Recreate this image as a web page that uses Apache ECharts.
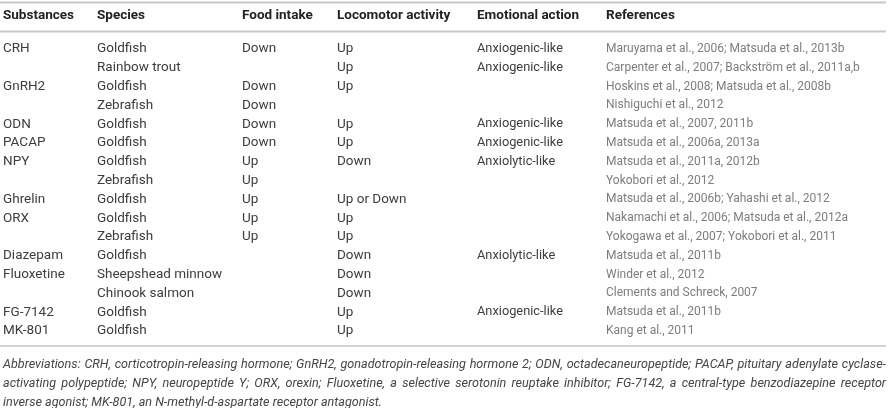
<!DOCTYPE html>
<html lang="en">
<head>
    <meta charset="UTF-8">
    <title>table</title>
    <script src="https://cdn.jsdelivr.net/npm/echarts@6/dist/echarts.min.js"></script>
    <style>
        body { margin: 0; background: #fff; }
    </style>
</head>
<body>
<div id="main" style="width: 888px;height:408px;"></div>
<script>
    let headers = ['Substances', 'Species', 'Food intake', 'Locomotor activity', 'Emotional action', 'References'];
    let substances = ['CRH', '', 'GnRH2', '', 'ODN', 'PACAP', 'NPY', '', 'Ghrelin', 'ORX', '', 'Diazepam', 'Fluoxetine', '', 'FG-7142', 'MK-801'];
    let species = ['Goldfish', 'Rainbow trout', 'Goldfish', 'Zebrafish', 'Goldfish', 'Goldfish', 'Goldfish', 'Zebrafish',
        'Goldfish', 'Goldfish', 'Zebrafish', 'Goldfish', 'Sheepshead minnow', 'Chinook salmon', 'Goldfish', 'Goldfish'];
    let foodIntake = ['Down', '', 'Down', 'Down', 'Down', 'Down', 'Up', 'Up', 'Up', 'Up', 'Up', '', '', '', '', ''];
    let locomotor = ['Up', 'Up', 'Up', '', 'Up', 'Up', 'Down', '', 'Up or Down', 'Up', 'Up', 'Down', 'Down', 'Down', 'Up', 'Up'];
    let emotional = ['Anxiogenic-like', 'Anxiogenic-like', '', '', 'Anxiogenic-like', 'Anxiogenic-like', 'Anxiolytic-like', '',
        '', '', '', 'Anxiolytic-like', '', '', 'Anxiogenic-like', ''];
    let references = [
        'Maruyama et al., 2006; Matsuda et al., 2013b',
        'Carpenter et al., 2007; Backström et al., 2011a,b',
        'Hoskins et al., 2008; Matsuda et al., 2008b',
        'Nishiguchi et al., 2012',
        'Matsuda et al., 2007, 2011b',
        'Matsuda et al., 2006a, 2013a',
        'Matsuda et al., 2011a, 2012b',
        'Yokobori et al., 2012',
        'Matsuda et al., 2006b; Yahashi et al., 2012',
        'Nakamachi et al., 2006; Matsuda et al., 2012a',
        'Yokogawa et al., 2007; Yokobori et al., 2011',
        'Matsuda et al., 2011b',
        'Winder et al., 2012',
        'Clements and Schreck, 2007',
        'Matsuda et al., 2011b',
        'Kang et al., 2011'
    ];
    let footnote = [
        'Abbreviations: CRH, corticotropin-releasing hormone; GnRH2, gonadotropin-releasing hormone 2; ODN, octadecaneuropeptide; PACAP, pituitary adenylate cyclase-',
        'activating polypeptide; NPY, neuropeptide Y; ORX, orexin; Fluoxetine, a selective serotonin reuptake inhibitor; FG-7142, a central-type benzodiazepine receptor',
        'inverse agonist; MK-801, an N-methyl-d-aspartate receptor antagonist.'
    ];

    // layout
    let colX = [3, 97, 242, 337, 477, 606];
    let fontFamily = 'Roboto, "Liberation Sans", sans-serif';
    let bodyColor = '#3d3d3d';
    let refColor = '#7d7d7d';

    let chart = echarts.init(document.getElementById('main'));
    let rows = species.map(function (s, i) { return 'r' + i; });

    function columnSeries(texts, col, color, size) {
        return {
            type: 'custom',
            silent: true,
            data: texts.map(function (t, i) { return [colX[col], i, t]; }),
            renderItem: function (params, api) {
                let p = api.coord([api.value(0), api.value(1)]);
                return {
                    type: 'text',
                    style: {
                        x: p[0], y: p[1],
                        text: texts[params.dataIndex],
                        fill: color,
                        font: size + 'px ' + fontFamily,
                        textVerticalAlign: 'middle'
                    }
                };
            }
        };
    }

    // justified footnote lines, word by word
    let ctx = document.createElement('canvas').getContext('2d');
    let footFont = 'italic 12.6px ' + fontFamily;
    ctx.font = footFont;
    let footY = [365, 384, 403];
    let graphics = [];
    footnote.forEach(function (line, li) {
        let words = line.split(' ');
        let widths = words.map(function (w) { return ctx.measureText(w).width; });
        let total = widths.reduce(function (a, b) { return a + b; }, 0);
        let gap = li < footnote.length - 1 ? (883 - total) / (words.length - 1) : ctx.measureText(' ').width;
        let x = 3;
        words.forEach(function (w, wi) {
            graphics.push({
                type: 'text', silent: true,
                style: { x: x, y: footY[li], text: w, font: footFont, fill: '#454545', textVerticalAlign: 'middle' }
            });
            x += widths[wi] + gap;
        });
    });

    headers.forEach(function (h, i) {
        graphics.push({
            type: 'text', silent: true,
            style: { x: colX[i], y: 16, text: h, font: 'bold 13.5px ' + fontFamily, fill: '#222', textVerticalAlign: 'middle' }
        });
    });
    graphics.push(
        { type: 'line', silent: true, shape: { x1: 0, y1: 2.5, x2: 886, y2: 2.5 }, style: { stroke: '#c8c8c8', lineWidth: 2 } },
        { type: 'line', silent: true, shape: { x1: 0, y1: 31.5, x2: 886, y2: 31.5 }, style: { stroke: '#c8c8c8', lineWidth: 2 } },
        { type: 'line', silent: true, shape: { x1: 0, y1: 346, x2: 886, y2: 346 }, style: { stroke: '#a8a8a8', lineWidth: 1 } }
    );

    let option = {
        animation: false,
        grid: { left: 0, right: 0, top: 39.6, bottom: 67.6 },
        xAxis: { type: 'value', min: 0, max: 888, show: false },
        yAxis: { type: 'category', data: rows, inverse: true, show: false },
        graphic: graphics,
        series: [
            columnSeries(substances, 0, bodyColor, 13.5),
            columnSeries(species, 1, bodyColor, 13.5),
            columnSeries(foodIntake, 2, bodyColor, 13.5),
            columnSeries(locomotor, 3, bodyColor, 13.5),
            columnSeries(emotional, 4, bodyColor, 12.8),
            columnSeries(references, 5, refColor, 12)
        ]
    };
    chart.setOption(option);
</script>
</body>
</html>
